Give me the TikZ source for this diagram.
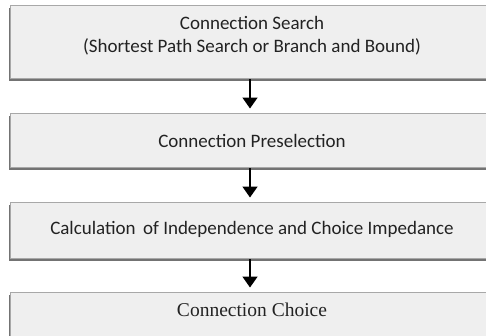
\documentclass[tikz,border=0pt]{standalone}
\usepackage{fontspec}
\setmainfont{Carlito}
\newfontfamily\choicefont{Liberation Serif}
\usetikzlibrary{arrows.meta,shadows}
\definecolor{boxfill}{HTML}{EFEFEF}
\definecolor{boxline}{HTML}{A8A8A8}
\definecolor{txt}{HTML}{222222}
\tikzset{
  stagebox/.style={draw=boxline, line width=1pt, fill=boxfill, anchor=north,
    drop shadow={shadow xshift=-1.5pt, shadow yshift=-2pt, fill=black!55, opacity=1},
    minimum width=483pt, inner sep=0pt, text=txt, align=center,
    font=\fontsize{19}{23}\selectfont},
  flow/.style={line width=1.6pt, -{Triangle[width=15pt,length=11pt]}, shorten >=4.5pt}
}
\begin{document}
\begin{tikzpicture}[x=1pt, y=-1pt]
  \useasboundingbox (0,0) rectangle (486,335);
  \clip (0,0) rectangle (486,335);
  \fill[white] (0,0) rectangle (486,335);
  % two-line box: the baseline is that of the last line
  \node[stagebox, text height=47pt, text depth=26pt] (search) at (252,5)
    {Connection Search\\(Shortest Path Search or Branch and Bound)};
  \node[stagebox, text height=34pt, text depth=20pt] (presel) at (252,113)
    {Connection Preselection};
  \node[stagebox, text height=32pt, text depth=24pt] (calc) at (252,202)
    {Calculation\, of Independence and Choice Impedance};
  \node[stagebox, text height=24pt, text depth=36pt,
        font=\choicefont\fontsize{19.5}{23}\selectfont] (choice) at (252,292)
    {Connection Choice};
  \draw[flow] ([xshift=-2pt]search.south) -- ([xshift=-2pt]presel.north);
  \draw[flow] ([xshift=-2pt]presel.south) -- ([xshift=-2pt]calc.north);
  \draw[flow] ([xshift=-2pt]calc.south) -- ([xshift=-2pt]choice.north);
\end{tikzpicture}
\end{document}
